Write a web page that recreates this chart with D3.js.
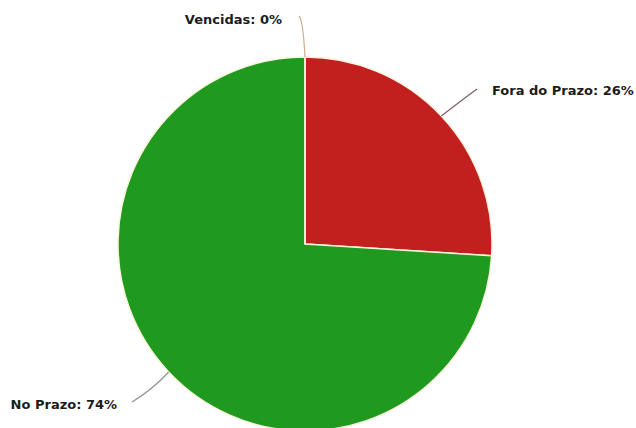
<!DOCTYPE html>
<html>
<head>
<meta charset="utf-8">
<script src="https://cdn.jsdelivr.net/npm/d3@7"></script>
<style>
  html, body { margin: 0; padding: 0; background: #fff; }
  svg { display: block; }
</style>
</head>
<body>
<svg id="chart" width="636" height="428"></svg>
<script>
// Status of items, in drawing order (clockwise from 12 o'clock)
const categories = ["Fora do Prazo", "No Prazo", "Vencidas"];
const percents = [26, 74, 0];
const colors = ["#c21f1f", "#1f9a1f", "#e8a33a"];
const connectorColors = ["#7d5d68", "#8c968c", "#cbb089"];

const width = 636, height = 428;
const cx = 305, cy = 244, radius = 187;

const svg = d3.select("#chart");
const g = svg.append("g").attr("transform", `translate(${cx},${cy})`);

const pie = d3.pie().sort(null).value(d => d.value);
const data = categories.map((c, i) => ({
  name: c, value: percents[i], color: colors[i], connector: connectorColors[i]
}));
const arcs = pie(data);

const arc = d3.arc().innerRadius(0).outerRadius(radius);

g.selectAll("path.slice")
  .data(arcs)
  .join("path")
  .attr("class", "slice")
  .attr("d", arc)
  .attr("fill", d => d.data.color)
  .attr("stroke", "#fbf3dc")
  .attr("stroke-width", 1.5)
  .attr("stroke-linejoin", "round");

// Data labels: connector end point, curve control point and label anchor (relative to center)
const labelLayout = {
  "Fora do Prazo": { end: [172, -155], ctrl: [157, -144], label: [187, -153], anchor: "start" },
  "No Prazo": { end: [-173, 158], ctrl: [-153, 146], label: [-188, 161], anchor: "end" },
  "Vencidas": { end: [-6, -228], ctrl: [-2, -224], label: [-23, -224], anchor: "end" }
};

arcs.forEach(a => {
  const mid = (a.startAngle + a.endAngle) / 2;
  const ex = radius * Math.sin(mid), ey = -radius * Math.cos(mid);
  const o = labelLayout[a.data.name];
  const p = d3.path();
  p.moveTo(ex, ey);
  p.quadraticCurveTo(o.ctrl[0], o.ctrl[1], o.end[0], o.end[1]);
  g.append("path")
    .attr("d", p.toString())
    .attr("fill", "none")
    .attr("stroke", a.data.connector)
    .attr("stroke-width", 1.2);

  g.append("text")
    .attr("x", o.label[0])
    .attr("y", o.label[1])
    .attr("text-anchor", o.anchor)
    .attr("dominant-baseline", "middle")
    .style("font", "bold 13px 'DejaVu Sans', Verdana, sans-serif")
    .attr("fill", "#1c1c1c")
    .text(`${a.data.name}: ${a.data.value}%`);
});
</script>
</body>
</html>
